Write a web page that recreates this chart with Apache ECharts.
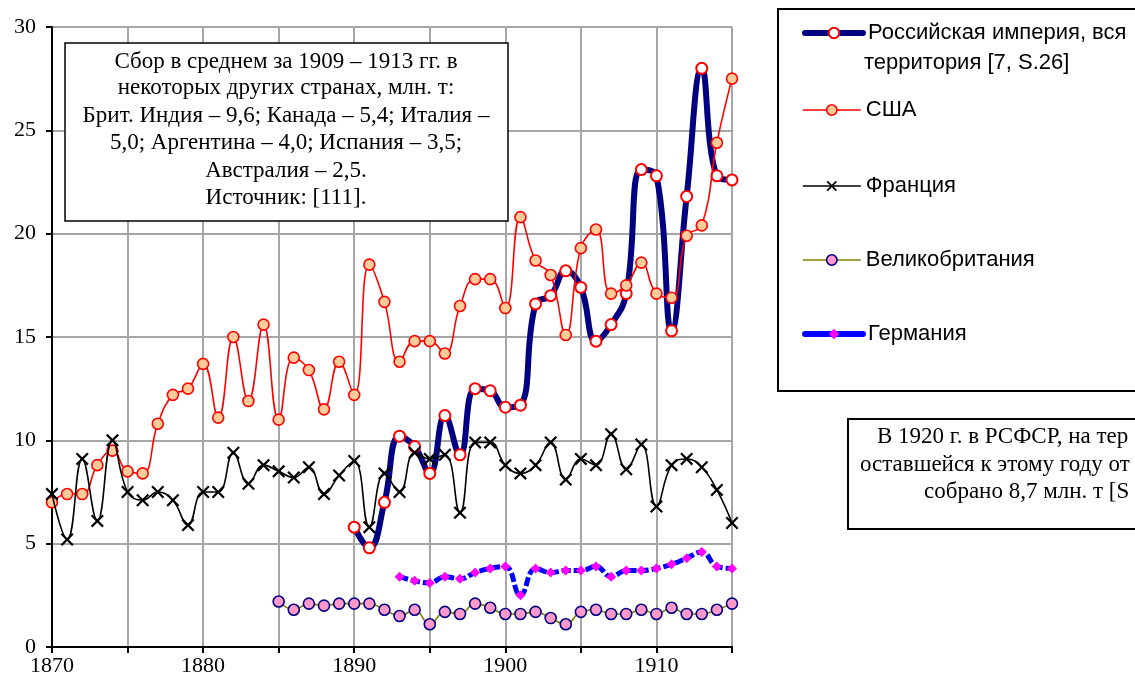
<!DOCTYPE html>
<html><head><meta charset="utf-8">
<script src="https://cdn.jsdelivr.net/npm/echarts@6/dist/echarts.min.js"></script>
<style>html,body{margin:0;padding:0;background:#fff}#c{width:1135px;height:687px}</style>
</head><body><div id="c"></div><script>
// ---- data ----
const yearsAll = [1870,1871,1872,1873,1874,1875,1876,1877,1878,1879,
                  1880,1881,1882,1883,1884,1885,1886,1887,1888,1889,
                  1890,1891,1892,1893,1894,1895,1896,1897,1898,1899,
                  1900,1901,1902,1903,1904,1905,1906,1907,1908,1909,
                  1910,1911,1912,1913,1914,1915];
const xTickLabels = [1870, 1880, 1890, 1900, 1910];
const yTickLabels = [0, 5, 10, 15, 20, 25, 30];

const russiaStart = 1890;
const russia = [5.8,4.8,7.0,10.2,9.7,8.4,11.2,9.3,12.5,12.4,
                11.6,11.7,16.6,17.0,18.2,17.4,14.8,15.6,17.1,23.1,
                22.8,15.3,21.8,28.0,22.8,22.6];
const usaStart = 1870;
const usa = [7.0,7.4,7.4,8.8,9.5,8.5,8.4,10.8,12.2,12.5,
             13.7,11.1,15.0,11.9,15.6,11.0,14.0,13.4,11.5,13.8,
             12.2,18.5,16.7,13.8,14.8,14.8,14.2,16.5,17.8,17.8,
             16.4,20.8,18.7,18.0,15.1,19.3,20.2,17.1,17.5,18.6,
             17.1,16.9,19.9,20.4,24.4,27.5];
const franceStart = 1870;
const france = [7.4,5.2,9.1,6.1,10.0,7.5,7.1,7.5,7.1,5.9,
                7.5,7.5,9.4,7.9,8.8,8.5,8.2,8.7,7.4,8.3,
                9.0,5.8,8.4,7.5,9.4,9.1,9.3,6.5,9.9,9.9,
                8.8,8.4,8.8,9.9,8.1,9.1,8.8,10.3,8.6,9.8,
                6.8,8.8,9.1,8.7,7.6,6.0];
const ukStart = 1885;
const uk = [2.2,1.8,2.1,2.0,2.1,
            2.1,2.1,1.8,1.5,1.8,1.1,1.7,1.6,2.1,1.9,
            1.6,1.6,1.7,1.4,1.1,1.7,1.8,1.6,1.6,1.8,
            1.6,1.9,1.6,1.6,1.8,2.1];
const germanyStart = 1893;
const germany = [3.4,3.2,3.1,3.4,3.3,3.6,3.8,
                 3.9,2.5,3.8,3.6,3.7,3.7,3.9,3.4,3.7,3.7,
                 3.8,4.0,4.3,4.6,3.9,3.8];

const seriesNames = ['Российская империя, вся территория [7, S.26]', 'США', 'Франция', 'Великобритания', 'Германия'];
const noteLines = ['Сбор в среднем за 1909 – 1913 гг. в',
                   'некоторых других странах, млн. т:',
                   'Брит. Индия – 9,6; Канада – 5,4; Италия –',
                   '5,0; Аргентина – 4,0; Испания – 3,5;',
                   'Австралия – 2,5.',
                   'Источник: [111].'];
const note2Lines = ['В 1920 г. в РСФСР, на тер', 'оставшейся к этому году от', 'собрано 8,7 млн. т [S'];

function pairs(start, vals) {
  const i0 = yearsAll.indexOf(start);
  return vals.map((v, i) => [yearsAll[i0 + i], v]);
}

// ---- chart ----
const chart = echarts.init(document.getElementById('c'), null, {renderer: 'canvas'});
const SERIF = '"Liberation Serif", "Times New Roman", serif';
const SANS = '"Liberation Sans", Arial, sans-serif';
const xPath = 'path://M0,1.2 L1.2,0 L5,3.8 L8.8,0 L10,1.2 L6.2,5 L10,8.8 L8.8,10 L5,6.2 L1.2,10 L0,8.8 L3.8,5 Z';

const styles = [
  {line: {color: '#000080', width: 6, cap: 'round'}, item: {color: '#fff', borderColor: '#ff0000', borderWidth: 2}, symbol: 'circle', size: 11},
  {line: {color: '#ff0000', width: 1.6}, item: {color: '#ffcc99', borderColor: '#ff0000', borderWidth: 1.6}, symbol: 'circle', size: 11},
  {line: {color: '#000000', width: 1.6}, item: {color: '#000', borderWidth: 0}, symbol: xPath, size: 13},
  {line: {color: '#808000', width: 1.6}, item: {color: '#ff99cc', borderColor: '#000080', borderWidth: 1.6}, symbol: 'circle', size: 11},
  {line: {color: '#0000ff', width: 5, type: [9, 3]}, item: {color: '#ff00ff', borderWidth: 0}, symbol: 'diamond', size: 10}
];
const legendLine = [
  {color: '#000080', width: 6, cap: 'round'},
  {color: '#ff0000', width: 1.6},
  {color: '#000000', width: 1.6},
  {color: '#808000', width: 1.6},
  {color: '#0000ff', width: 6, cap: 'round', type: 'solid'}
];

const legendTops = [22, 99, 175, 249, 323];
const legends = seriesNames.map((n, i) => ({
  data: [n], left: 802, top: legendTops[i], orient: 'vertical', padding: 0,
  itemWidth: 58, itemHeight: 13, itemGap: 0, selectedMode: false,
  lineStyle: legendLine[i], itemStyle: styles[i].item,
  textStyle: {fontFamily: SANS, fontSize: 22, color: '#000', lineHeight: 22, padding: [0, 0, 0, 0]},
  formatter: name => name === seriesNames[0] ? 'Российская империя, вся' : name
}));

const graphics = [
  {type: 'rect', z: 10, shape: {x: 778, y: 9, width: 420, height: 382}, style: {fill: 'none', stroke: '#000', lineWidth: 2}},
  {type: 'text', z: 10, style: {text: 'территория [7, S.26]', x: 864, y: 63, font: '22px ' + SANS, fill: '#000', align: 'left', verticalAlign: 'middle', textAlign: 'left', textVerticalAlign: 'middle'}},
  {type: 'rect', z: 10, shape: {x: 65, y: 43, width: 443, height: 178}, style: {fill: '#fff', stroke: '#000', lineWidth: 1.5}},
  {type: 'rect', z: 10, shape: {x: 848, y: 419, width: 320, height: 110}, style: {fill: '#fff', stroke: '#000', lineWidth: 2}}
];
const noteYs = [61.7, 88.3, 116, 142.7, 171, 197.7];
noteLines.forEach((t, i) => graphics.push({type: 'text', z: 11, style: {text: t, x: 286, y: noteYs[i], font: '23px ' + SERIF, fill: '#000', align: 'center', verticalAlign: 'middle', textAlign: 'center', textVerticalAlign: 'middle'}}));
const note2X = [877, 860, 924];
const note2Y = [436.7, 465, 491.7];
note2Lines.forEach((t, i) => graphics.push({type: 'text', z: 11, style: {text: t, x: note2X[i], y: note2Y[i], font: '23px ' + SERIF, fill: '#000', align: 'left', verticalAlign: 'middle', textAlign: 'left', textVerticalAlign: 'middle'}}));

const option = {
  animation: false,
  backgroundColor: '#fff',
  grid: {left: 52, right: 403, top: 27, bottom: 40, containLabel: false},
  legend: legends,
  graphic: graphics,
  xAxis: {
    type: 'value', min: 1870, max: 1915, interval: 5,
    axisLine: {show: true, onZero: false, lineStyle: {color: '#000', width: 2}},
    axisTick: {show: true, length: 6, lineStyle: {color: '#000', width: 2}},
    axisLabel: {margin: 8, fontFamily: SERIF, fontSize: 22, color: '#000',
      formatter: v => xTickLabels.indexOf(v) >= 0 ? String(v) : ''},
    splitLine: {show: true, lineStyle: {color: '#a6a6a6', width: 2}}
  },
  yAxis: {
    type: 'value', min: 0, max: 30, interval: 5,
    axisLine: {show: true, lineStyle: {color: '#000', width: 2}},
    axisTick: {show: true, length: 6, lineStyle: {color: '#000', width: 2}},
    axisLabel: {margin: 16, fontFamily: SERIF, fontSize: 22, color: '#000',
      formatter: v => yTickLabels.indexOf(v) >= 0 ? String(v) : ''},
    splitLine: {show: true, lineStyle: {color: '#a6a6a6', width: 2}}
  },
  series: seriesNames.map((n, i) => ({
    name: n, type: 'line', smooth: 0.45, z: 2 + i,
    data: [pairs(russiaStart, russia), pairs(usaStart, usa), pairs(franceStart, france), pairs(ukStart, uk), pairs(germanyStart, germany)][i],
    lineStyle: styles[i].line, symbol: styles[i].symbol, symbolSize: styles[i].size,
    itemStyle: styles[i].item
  }))
};
chart.setOption(option);
</script></body></html>
